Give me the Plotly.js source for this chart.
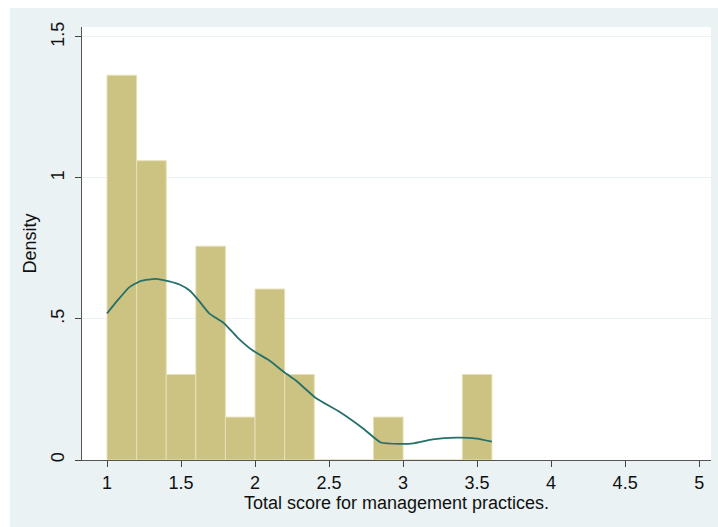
<!DOCTYPE html>
<html>
<head>
<meta charset="utf-8">
<script src="https://cdn.plot.ly/plotly-3.0.1.min.js"></script>
<style>
html,body{margin:0;padding:0;background:#ffffff;width:718px;height:527px;overflow:hidden;}
#chart{position:absolute;left:10px;top:8px;width:708px;height:519px;}
</style>
</head>
<body>
<div id="chart"></div>
<script>
// Histogram bins (left edges), bin width 0.2
const binStarts = [1.0, 1.2, 1.4, 1.6, 1.8, 2.0, 2.2, 2.4, 2.6, 2.8, 3.0, 3.2, 3.4];
const density = [1.364, 1.061, 0.303, 0.758, 0.152, 0.606, 0.303, 0, 0, 0.152, 0, 0, 0.303];
const binWidth = 0.2;

// Kernel density curve
const kdX = [1.0, 1.07, 1.15, 1.23, 1.33, 1.42, 1.49, 1.56, 1.62, 1.69, 1.79, 1.88, 1.98, 2.09, 2.20, 2.28, 2.41, 2.57, 2.73, 2.85, 2.98, 3.07, 3.20, 3.36, 3.50, 3.60];
const kdY = [0.52, 0.565, 0.612, 0.635, 0.642, 0.633, 0.622, 0.60, 0.565, 0.52, 0.485, 0.435, 0.39, 0.355, 0.31, 0.28, 0.22, 0.171, 0.112, 0.062, 0.057, 0.059, 0.073, 0.079, 0.076, 0.065];

const xTicks = [1, 1.5, 2, 2.5, 3, 3.5, 4, 4.5, 5];
const xTickText = ['1', '1.5', '2', '2.5', '3', '3.5', '4', '4.5', '5'];
const yTicks = [0, 0.5, 1, 1.5];
const yTickText = ['0', '.5', '1', '1.5'];

const binCenters = binStarts.map(b => b + binWidth / 2);

const traces = [
  {
    type: 'bar',
    x: binCenters,
    y: density,
    width: binWidth,
    marker: {color: '#CCC382', line: {color: '#E6E0B6', width: 1}},
    hoverinfo: 'x+y'
  },
  {
    type: 'scatter',
    mode: 'lines',
    x: kdX,
    y: kdY,
    line: {color: '#26706A', width: 1.8, shape: 'spline', smoothing: 0.5}
  }
];

const font = {family: '"Liberation Sans", Arial, sans-serif', size: 18, color: '#111111'};

const layout = {
  width: 708,
  height: 519,
  margin: {l: 72, r: 7, t: 19, b: 67},
  paper_bgcolor: '#EAF2F3',
  plot_bgcolor: '#FFFFFF',
  showlegend: false,
  bargap: 0,
  font: font,
  xaxis: {
    range: [0.831, 5.08],
    tickvals: xTicks,
    ticktext: xTickText,
    ticks: 'outside',
    ticklen: 6,
    tickcolor: '#444444',
    showline: true,
    linecolor: '#555555',
    linewidth: 1,
    showgrid: false,
    zeroline: false,
    tickfont: font,
    title: {text: 'Total score for management practices.', font: font, standoff: 0}
  },
  yaxis: {
    range: [0, 1.535],
    tickvals: yTicks,
    ticktext: yTickText,
    tickangle: -90,
    ticks: 'outside',
    ticklen: 6,
    ticklabelstandoff: 4,
    tickcolor: '#444444',
    showline: true,
    linecolor: '#555555',
    linewidth: 1,
    showgrid: true,
    gridcolor: '#EAF2F3',
    gridwidth: 1,
    zeroline: false,
    tickfont: font,
    title: {text: 'Density', font: font, standoff: 6}
  }
};

Plotly.newPlot('chart', traces, layout, {displayModeBar: false, staticPlot: true});
</script>
</body>
</html>
